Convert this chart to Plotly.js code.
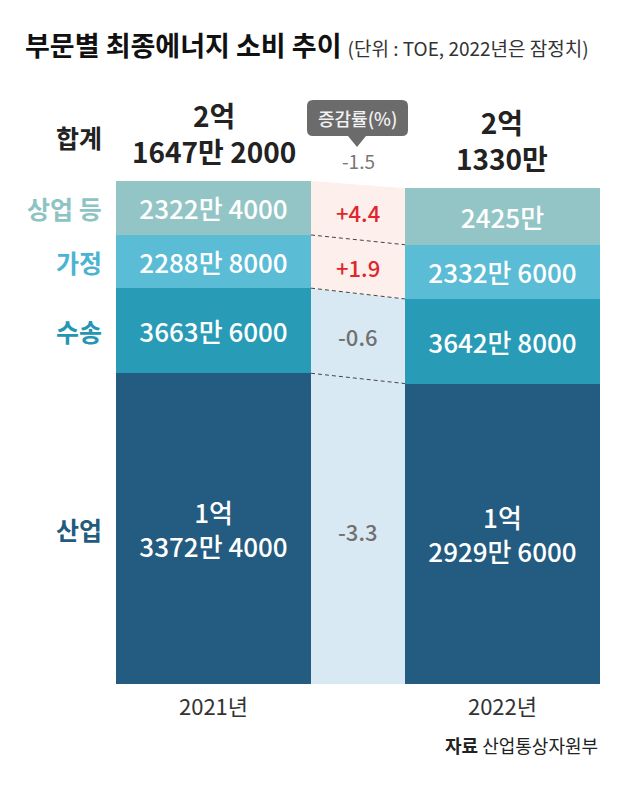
<!DOCTYPE html>
<html>
<head>
<meta charset="utf-8">
<script src="https://cdn.plot.ly/plotly-3.0.1.min.js"></script>
<style>html,body{margin:0;padding:0;background:#fff;}#chart{width:640px;height:785px;}</style>
</head>
<body>
<div id="chart"></div>
<script>
// ---- data ----
const years = ['2021년', '2022년'];
const sectors = ['산업', '수송', '가정', '상업 등'];
const values2021 = [133724000, 36636000, 22888000, 23224000];
const values2022 = [129296000, 36428000, 23326000, 24250000];
const labels2021 = ['1억<br>3372만 4000', '3663만 6000', '2288만 8000', '2322만 4000'];
const labels2022 = ['1억<br>2929만 6000', '3642만 8000', '2332만 6000', '2425만'];
const totals = [216472000, 213300000];
const totalLabels = ['2억<br>1647만 2000', '2억<br>1330만'];
const changes = ['-3.3', '-0.6', '+1.9', '+4.4'];
const totalChange = '-1.5';

// ---- styles ----
const FONT = 'Noto Sans CJK KR, Noto Sans, sans-serif';
const barColors = ['#235c80', '#289bb6', '#5bbcd6', '#93c5c6'];
const labelColors = ['#235b7e', '#2596b2', '#4ab4d1', '#8ec3c4'];
const bandColors = ['#d9e9f3', '#d9e9f3', '#fdefeb', '#fdefeb'];
const changeColors = ['#707070', '#707070', '#e0262b', '#e0262b'];
const W = 640, H = 785;
const M = {l: 116, r: 40, t: 181, b: 101};
const barWidth = 0.675;
const x1 = barWidth / 2, x2 = 1 - barWidth / 2;

const px = (x) => (x - M.l) / (W - M.l - M.r);
const py = (y) => (H - M.b - y) / (H - M.t - M.b);

const traces = [];
const cum2021 = [0], cum2022 = [0];
for (let i = 0; i < sectors.length; i++) {
  cum2021.push(cum2021[i] + values2021[i]);
  cum2022.push(cum2022[i] + values2022[i]);
}
// middle bands
for (let i = 0; i < sectors.length; i++) {
  traces.push({
    type: 'scatter', mode: 'lines', fill: 'toself', fillcolor: bandColors[i],
    line: {width: 0, color: bandColors[i]}, hoverinfo: 'skip', showlegend: false,
    x: [x1, x2, x2, x1, x1],
    y: [cum2021[i], cum2022[i], cum2022[i + 1], cum2021[i + 1], cum2021[i]]
  });
}
// dashed connectors
for (let i = 1; i < sectors.length; i++) {
  traces.push({
    type: 'scatter', mode: 'lines', hoverinfo: 'skip', showlegend: false,
    x: [x1, x2], y: [cum2021[i], cum2022[i]],
    line: {color: '#444', width: 1, dash: '4px,3px'}
  });
}
// bars
for (let i = 0; i < sectors.length; i++) {
  traces.push({
    type: 'bar', name: sectors[i], x: [0, 1], y: [values2021[i], values2022[i]],
    width: barWidth, marker: {color: barColors[i], line: {width: 0}},
    text: [labels2021[i], labels2022[i]], textposition: 'inside', insidetextanchor: 'middle',
    textfont: {family: FONT, size: 26, color: '#ffffff', weight: 500}, hoverinfo: 'skip', showlegend: false,
    constraintext: 'none', cliponaxis: false
  });
}

const annotations = [];
for (let j = 0; j < 2; j++) {
  annotations.push({
    x: j, y: totals[j], xref: 'x', yref: 'y', text: '<b>' + totalLabels[j] + '</b>',
    showarrow: false, yanchor: 'bottom', yshift: 8, align: 'center',
    font: {family: FONT, size: 28, color: '#222'}
  });
}
for (let i = 0; i < sectors.length; i++) {
  const mid = ((cum2021[i] + cum2021[i + 1]) / 2 + (cum2022[i] + cum2022[i + 1]) / 2) / 2;
  annotations.push({
    x: 0.5, y: mid, xref: 'x', yref: 'y', text: changes[i], showarrow: false,
    font: {family: FONT, size: 22, color: changeColors[i], weight: 500}
  });
}
annotations.push({
  x: 0.5, y: totals[0], xref: 'x', yref: 'y', text: totalChange, showarrow: false,
  yanchor: 'middle', yshift: 21, font: {family: FONT, size: 19, color: '#777'}
});
for (let i = 0; i < sectors.length; i++) {
  annotations.push({
    x: px(104), xref: 'paper', y: (cum2021[i] + cum2021[i + 1]) / 2, yref: 'y',
    text: '<b>' + sectors[i] + '</b>', showarrow: false, xanchor: 'right', yanchor: 'middle',
    font: {family: FONT, size: 25, color: labelColors[i]}
  });
}
annotations.push({
  x: px(104), xref: 'paper', y: py(137), yref: 'paper', text: '<b>합계</b>', showarrow: false,
  xanchor: 'right', yanchor: 'middle', font: {family: FONT, size: 25, color: '#222'}
});
annotations.push({
  x: px(357), xref: 'paper', y: py(118), yref: 'paper', text: '증감률(%)', showarrow: false,
  xanchor: 'center', yanchor: 'middle', font: {family: FONT, size: 18, color: '#f2f2f2', weight: 500}
});
annotations.push({
  x: px(600), xref: 'paper', y: py(745), yref: 'paper', xanchor: 'right', yanchor: 'middle',
  text: '<b>자료</b> 산업통상자원부', showarrow: false,
  font: {family: FONT, size: 18, color: '#222'}
});

// callout bubble shape
const bx0 = px(307), bx1 = px(408), by0 = py(100), by1 = py(136);
const rx = 6 / 484, ry = 6 / 503;
const tipX = px(357), tipY = py(147), hb = 9 / 484;
const path = `M ${bx0 + rx} ${by0} L ${bx1 - rx} ${by0} Q ${bx1} ${by0} ${bx1} ${by0 - ry} ` +
  `L ${bx1} ${by1 + ry} Q ${bx1} ${by1} ${bx1 - rx} ${by1} L ${tipX + hb} ${by1} L ${tipX} ${tipY} L ${tipX - hb} ${by1} ` +
  `L ${bx0 + rx} ${by1} Q ${bx0} ${by1} ${bx0} ${by1 + ry} L ${bx0} ${by0 - ry} Q ${bx0} ${by0} ${bx0 + rx} ${by0} Z`;

const layout = {
  width: W, height: H,
  margin: M,
  paper_bgcolor: '#ffffff', plot_bgcolor: '#ffffff',
  barmode: 'stack', showlegend: false,
  title: {
    text: '<b>부문별 최종에너지 소비 추이</b> <span style="font-size:19px;color:#333">(단위 : TOE, 2022년은 잠정치)</span>',
    x: 25 / W, xanchor: 'left', xref: 'container', y: 1 - 47 / H, yanchor: 'middle', yref: 'container',
    font: {family: FONT, size: 27, color: '#111'}
  },
  xaxis: {
    range: [-barWidth / 2, 1 + barWidth / 2], tickvals: [0, 1], ticktext: years,
    showgrid: false, zeroline: false, showline: false, ticks: '', fixedrange: true,
    tickfont: {family: FONT, size: 22, color: '#333'}, ticklabelstandoff: 8
  },
  yaxis: {
    range: [0, totals[0]], visible: false, showgrid: false, zeroline: false, fixedrange: true
  },
  annotations: annotations,
  shapes: [{type: 'path', xref: 'paper', yref: 'paper', path: path, fillcolor: '#6b6b6b', line: {width: 0}}]
};

Plotly.newPlot('chart', traces, layout, {displayModeBar: false, staticPlot: true});
</script>
</body>
</html>
